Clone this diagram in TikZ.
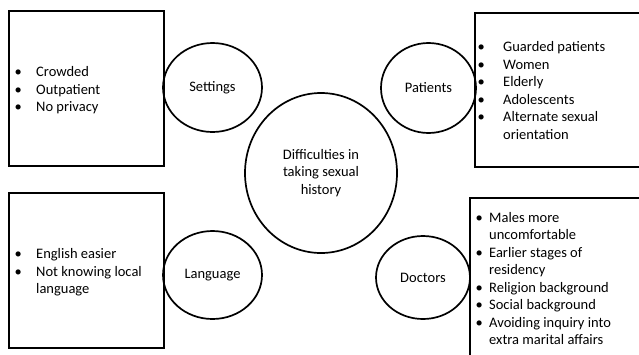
\documentclass[tikz,border=0pt]{standalone}
\usepackage{fontspec}
\setmainfont{Carlito}
\usetikzlibrary{shapes.geometric}
\newcommand{\bl}{\textbullet}
\begin{document}
\begin{tikzpicture}[x=1pt,y=-1pt,
  every node/.style={font=\fontsize{14.5}{17.5}\selectfont},
  boxshape/.style={draw,line width=1.7pt,rectangle,inner sep=0pt,anchor=north west},
  ovalshape/.style={draw,line width=1.7pt,ellipse,inner sep=0pt,align=center},
  listtext/.style={inner sep=0pt,anchor=north west,align=left}]
\useasboundingbox (0,0) rectangle (639,354);
\begin{scope}
\clip (0,0) rectangle (639,354);
% boxes
\node[boxshape,minimum width=155pt,minimum height=155pt] (boxTL) at (8,10) {};
\node[boxshape,minimum width=180pt,minimum height=154pt] (boxTR) at (474,12) {};
\node[boxshape,minimum width=155pt,minimum height=155pt] (boxBL) at (8,192) {};
\node[boxshape,minimum width=190pt,minimum height=180pt] (boxBR) at (469,197) {};
% ovals
\node[ovalshape,minimum width=99pt,minimum height=89pt] (settings) at (212.5,87.5) {Settings};
\node[ovalshape,minimum width=95pt,minimum height=90pt] (patients) at (428.5,88) {Patients};
\node[ovalshape,minimum width=99pt,minimum height=88pt] (language) at (212.5,275) {Language};
\node[ovalshape,minimum width=94pt,minimum height=83pt] (doctors) at (423,277.5) {Doctors};
\node[ovalshape,minimum width=152pt,minimum height=160pt] (center) at (321,173) {Difficulties in\\taking sexual\\history};
% lists
\node[listtext] (listTL) at (14.5,64.5) {\begin{tabular}{@{}p{21.5pt}@{}l@{}}
\bl & Crowded\\ \bl & Outpatient\\ \bl & No privacy\end{tabular}};
\node[listtext] (listTR) at (477.5,39.5) {\begin{tabular}{@{}p{25.5pt}@{}l@{}}
\bl & Guarded patients\\ \bl & Women\\ \bl & Elderly\\ \bl & Adolescents\\ \bl & Alternate sexual\\ & orientation\end{tabular}};
\node[listtext] (listBL) at (14.5,246.5) {\begin{tabular}{@{}p{21.5pt}@{}l@{}}
\bl & English easier\\ \bl & Not knowing local\\ & language\end{tabular}};
\node[listtext] (listBR) at (475.5,210) {\begin{tabular}{@{}p{13.5pt}@{}l@{}}
\bl & Males more\\ & uncomfortable\\ \bl & Earlier stages of\\ & residency\\ \bl & Religion background\\ \bl & Social background\\ \bl & Avoiding inquiry into\\ & extra marital affairs\end{tabular}};
\end{scope}
\end{tikzpicture}
\end{document}
